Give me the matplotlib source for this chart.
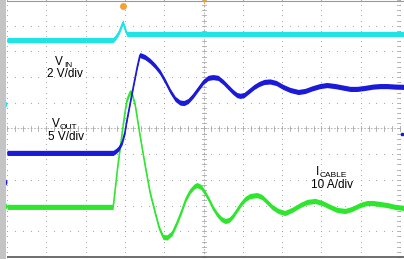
import numpy as np
import matplotlib
matplotlib.use("Agg")
import matplotlib.pyplot as plt
import matplotlib.patches as patches

# Scope traces, in screen divisions (x: time div, y: vertical div from centre)
cyan_t = [0, 2.70, 2.77, 2.85, 2.90, 2.95, 3.00, 3.05, 3.18, 10.10]
cyan_y = [3.44, 3.44, 3.56, 3.75, 3.95, 4.14, 3.87, 3.68, 3.68, 3.68]

vin_t = [0, 2.70, 2.77, 2.85, 2.93, 3.00, 3.05, 3.18, 3.31, 3.38,
         3.51, 3.64, 3.77, 3.89, 4.02, 4.15, 4.28, 4.40, 4.50, 4.61,
         4.73, 4.86, 4.99, 5.12, 5.24, 5.37, 5.50, 5.62, 5.75, 5.85,
         5.93, 6.03, 6.16, 6.29, 6.41, 6.54, 6.69, 6.85, 7.02, 7.20,
         7.41, 7.58, 7.76, 7.96, 8.14, 8.35, 8.52, 8.73, 8.91, 9.11,
         9.31, 9.49, 9.67, 9.87, 10.10]
vin_y = [-0.95, -0.95, -0.88, -0.76, -0.53, -0.14, 0.33, 1.38, 2.39, 2.86,
         2.78, 2.63, 2.43, 2.20, 1.85, 1.46, 1.15, 1.01, 0.99, 1.07,
         1.27, 1.54, 1.81, 1.97, 2.00, 1.97, 1.81, 1.62, 1.42, 1.30,
         1.27, 1.30, 1.46, 1.62, 1.73, 1.81, 1.83, 1.77, 1.62, 1.50,
         1.42, 1.46, 1.56, 1.65, 1.69, 1.65, 1.60, 1.54, 1.54, 1.58,
         1.63, 1.65, 1.65, 1.63, 1.62]

icable_t = [0, 2.70, 2.72, 2.82, 2.93, 3.00, 3.05, 3.13, 3.18, 3.26,
            3.38, 3.51, 3.64, 3.77, 3.87, 3.97, 4.07, 4.20, 4.33, 4.45,
            4.55, 4.66, 4.76, 4.83, 4.94, 5.04, 5.14, 5.24, 5.34, 5.45,
            5.55, 5.65, 5.75, 5.85, 5.95, 6.06, 6.18, 6.36, 6.49, 6.62,
            6.74, 6.90, 7.07, 7.25, 7.46, 7.63, 7.84, 8.02, 8.22, 8.40,
            8.60, 8.78, 8.98, 9.16, 9.31, 9.49, 9.67, 9.87, 10.10]
icable_y = [-3.05, -3.05, -2.78, -1.42, -0.14, 0.64, 1.11, 1.42, 1.34, 0.91,
            -0.25, -1.42, -2.51, -3.29, -3.87, -4.22, -4.24, -4.07, -3.64, -3.17,
            -2.74, -2.43, -2.26, -2.20, -2.28, -2.51, -2.78, -3.09, -3.33, -3.52,
            -3.60, -3.56, -3.40, -3.17, -2.94, -2.74, -2.63, -2.59, -2.67, -2.86,
            -3.05, -3.21, -3.29, -3.17, -2.98, -2.86, -2.82, -2.90, -3.05, -3.17,
            -3.21, -3.13, -2.98, -2.90, -2.90, -2.94, -2.98, -3.05, -3.09]

CYAN = '#1ee4e6'
BLUE = '#1a1ad8'
GREEN = '#2ee62e'

plt.rcParams['font.family'] = 'Liberation Sans'

fig = plt.figure(figsize=(4.04, 2.59), dpi=100)
fig.patch.set_facecolor('white')
# grey strip on the left of the screen
fig.patches.append(patches.Rectangle((0, 0), 6 / 404, 1, transform=fig.transFigure,
                                     facecolor='#c4c4c4', edgecolor='none'))
ax = fig.add_axes([7 / 404, 1.5 / 259, 397 / 404, 257.5 / 259])
ax.set_xlim(0, 10.10)
ax.set_ylim(-5.02, 5.0)
ax.axis('off')

# graticule: dotted lines made of dots at minor divisions
minor_x = np.arange(0, 10.01, 0.2)
minor_y = np.arange(-5, 5.01, 0.2)
for gx in range(0, 11):
    ax.scatter(np.full(minor_y.size, gx), minor_y, s=0.6, color='#9c9c9c',
               linewidths=0, zorder=1)
for gy in range(-4, 5):
    ax.scatter(minor_x, np.full(minor_x.size, gy), s=0.6, color='#9c9c9c',
               linewidths=0, zorder=1)
# centre cross with tick marks
ax.plot([0, 10], [0, 0], color='#a8a8a8', lw=0.6, ls=(0, (2, 2)), zorder=1)
ax.plot([5, 5], [-5, 5], color='#a8a8a8', lw=0.6, ls=(0, (2, 2)), zorder=1)
for mx in minor_x:
    ax.plot([mx, mx], [-0.08, 0.08], color='#a8a8a8', lw=0.6, zorder=1)
for my in minor_y:
    ax.plot([4.95, 5.05], [my, my], color='#a8a8a8', lw=0.6, zorder=1)
    ax.plot([9.93, 10.0], [my, my], color='#a8a8a8', lw=0.6, zorder=1)
ax.plot([0, 10.10], [-5.0, -5.0], color='#555555', lw=1.2, zorder=1)
ax.plot([0, 10.10], [4.98, 4.98], color='#999999', lw=0.8, zorder=1)

# traces: a band for the noise plus a thin core line
def trace(t, y, color, half):
    t = np.asarray(t)
    y = np.asarray(y)
    ax.fill_between(t, y - half, y + half, color=color, lw=0, zorder=3)
    ax.plot(t, y, color=color, lw=1.0, zorder=3, solid_joinstyle='round')

trace(icable_t, icable_y, GREEN, 0.1)
trace(vin_t, vin_y, BLUE, 0.1)
trace(cyan_t, cyan_y, CYAN, 0.1)

# trigger and channel markers
ax.plot(2.95, 4.77, 'o', color='#f5a030', ms=5, mec='none', clip_on=False, zorder=5)
ax.plot(5.0, 4.95, 'v', color='#f5a030', ms=3, mec='none', clip_on=False, zorder=5)
ax.plot(-0.10, 0.95, 'o', color=CYAN, ms=4.5, mec=CYAN, clip_on=False, zorder=5)
for my, c in [(-2.08, BLUE), (-3.02, GREEN)]:
    ax.plot(-0.10, my, 'o', mfc='white', mec=c, mew=1.2, ms=4.5,
            clip_on=False, zorder=5)
ax.plot(10.05, -0.21, 's', color=BLUE, ms=2, clip_on=False, zorder=5)

# channel labels (main letter plus a smaller, lowered subscript)
fs = 8.5
fsub = 6
ax.text(1.22, 2.47, 'V', fontsize=fs, ha='left', va='baseline')
ax.text(1.46, 2.39, 'IN', fontsize=fsub, ha='left', va='baseline')
ax.text(1.48, 2.00, '2 V/div', fontsize=fs, ha='center', va='baseline')
ax.text(1.15, 0.06, 'V', fontsize=fs, ha='left', va='baseline')
ax.text(1.34, -0.02, 'OUT', fontsize=fsub, ha='left', va='baseline')
ax.text(1.50, -0.45, '5 V/div', fontsize=fs, ha='center', va='baseline')
ax.text(7.86, -1.81, 'I', fontsize=fs, ha='left', va='baseline')
ax.text(7.96, -1.89, 'CABLE', fontsize=fsub, ha='left', va='baseline')
ax.text(8.26, -2.32, '10 A/div', fontsize=fs, ha='center', va='baseline')

fig.savefig('out.png', dpi=100)
